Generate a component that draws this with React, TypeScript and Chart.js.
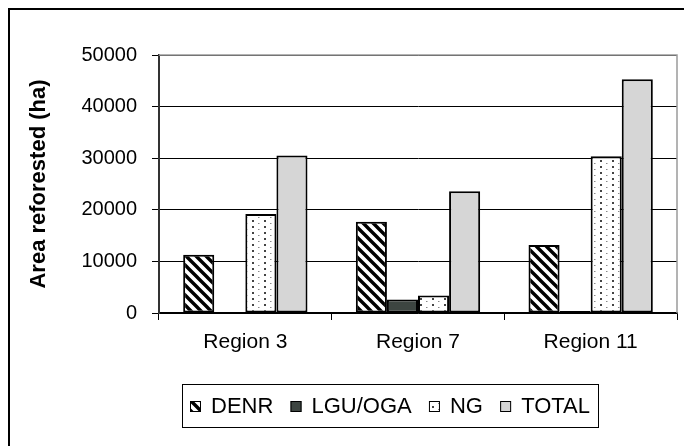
import React, { useEffect, useRef } from "react";
import { Chart, registerables } from "chart.js";

Chart.register(...registerables);

const categories = ["Region 3", "Region 7", "Region 11"];
const seriesNames = ["DENR", "LGU/OGA", "NG", "TOTAL"];
const denrValues = [11300, 17700, 13200];
const lguValues = [0, 2600, 400];
const ngValues = [19200, 3400, 30400];
const totalValues = [30500, 23600, 45300];
const yTickValues = [0, 10000, 20000, 30000, 40000, 50000];
const yTitle = "Area reforested (ha)";

const FONT = "'Liberation Sans', Arial, Helvetica, sans-serif";

function makeStripe(): CanvasPattern | string {
  const n = 10;
  const c = document.createElement("canvas");
  c.width = n;
  c.height = n;
  const g = c.getContext("2d");
  if (!g) return "#888";
  g.fillStyle = "#ffffff";
  g.fillRect(0, 0, n, n);
  g.strokeStyle = "#000000";
  g.lineWidth = 3.4;
  g.beginPath();
  for (let k = -1; k <= 1; k++) {
    g.moveTo(-2, -2 + n * k);
    g.lineTo(n + 2, n + 2 + n * k);
  }
  g.stroke();
  return g.createPattern(c, "repeat") || "#888";
}

function makeDots(): CanvasPattern | string {
  const c = document.createElement("canvas");
  c.width = 12;
  c.height = 6;
  const g = c.getContext("2d");
  if (!g) return "#eee";
  g.fillStyle = "#ffffff";
  g.fillRect(0, 0, 12, 6);
  g.fillStyle = "#444444";
  g.fillRect(4, 2, 2, 2);
  g.fillStyle = "#8a8a8a";
  g.fillRect(10, 5, 1.5, 1.5);
  return g.createPattern(c, "repeat") || "#eee";
}

export default function App() {
  const ref = useRef<HTMLCanvasElement | null>(null);

  useEffect(() => {
    if (!ref.current) return;
    const stripe = makeStripe();
    const dots = makeDots();
    const fills = [stripe, "#3d4541", dots, "#d6d6d6"];
    const values = [denrValues, lguValues, ngValues, totalValues];

    const decor = {
      id: "decor",
      afterDraw(chart: any) {
        const { ctx, chartArea: a } = chart;
        ctx.save();
        // plot area border (top & right)
        ctx.strokeStyle = "#9a9a9a";
        ctx.lineWidth = 1.5;
        ctx.beginPath();
        ctx.moveTo(a.left, a.top);
        ctx.lineTo(a.right, a.top);
        ctx.lineTo(a.right, a.bottom);
        ctx.stroke();
        // outer border (left & top)
        ctx.strokeStyle = "#000";
        ctx.lineWidth = 2;
        ctx.beginPath();
        ctx.moveTo(1, chart.height);
        ctx.lineTo(1, 1);
        ctx.lineTo(chart.width, 1);
        ctx.stroke();
        // legend
        const bx = 174, by = 376, bw = 416, bh = 43;
        ctx.strokeStyle = "#000";
        ctx.lineWidth = 1;
        ctx.strokeRect(bx + 0.5, by + 0.5, bw, bh);
        ctx.font = `22px ${FONT}`;
        ctx.textBaseline = "middle";
        ctx.fillStyle = "#000";
        const sw = 11, gapST = 10, pad = 8;
        const ds = chart.data.datasets;
        const widths = ds.map((d: any) => sw + gapST + ctx.measureText(d.label).width);
        const sum = widths.reduce((s: number, w: number) => s + w, 0);
        const gap = (bw - 2 * pad - sum) / (ds.length - 1);
        let x = bx + pad;
        const cy = by + bh / 2 + 1;
        ds.forEach((d: any, i: number) => {
          ctx.fillStyle = d.backgroundColor;
          ctx.fillRect(x, cy - sw / 2, sw, sw);
          ctx.strokeStyle = "#000";
          ctx.lineWidth = 1;
          ctx.strokeRect(x + 0.5, cy - sw / 2 + 0.5, sw - 1, sw - 1);
          ctx.fillStyle = "#000";
          ctx.fillText(d.label, x + sw + gapST, cy);
          x += widths[i] + gap;
        });
        ctx.restore();
      },
    };

    const chart = new Chart(ref.current, {
      type: "bar",
      data: {
        labels: categories,
        datasets: seriesNames.map((name, i) => ({
          label: name,
          data: values[i],
          backgroundColor: fills[i] as any,
          borderColor: "#000",
          borderWidth: 2,
          borderSkipped: false,
          categoryPercentage: 0.72,
          barPercentage: 1,
        })),
      },
      options: {
        animation: false,
        responsive: false,
        layout: { padding: { left: 0, right: 15, top: 47, bottom: 93 } },
        plugins: {
          legend: { display: false },
          tooltip: { enabled: false },
        },
        scales: {
          x: {
            afterFit: (s: any) => {
              s.height = 40;
            },
            grid: {
              drawOnChartArea: false,
              drawTicks: true,
              tickLength: 7,
              color: "#000",
              offset: true,
            },
            border: { color: "#000", width: 1.5 },
            ticks: {
              color: "#000",
              font: { family: FONT, size: 21 },
              padding: 10,
            },
          },
          y: {
            min: 0,
            max: 50000,
            afterFit: (s: any) => {
              s.width = 151;
            },
            afterBuildTicks: (s: any) => {
              s.ticks = yTickValues.map((v) => ({ value: v }));
            },
            grid: { color: "#000", lineWidth: 1, tickLength: 7 },
            border: { color: "#333", width: 2 },
            ticks: {
              color: "#000",
              font: { family: FONT, size: 20 },
              padding: 15,
              callback: (v: any) => String(v),
            },
            title: {
              display: true,
              text: yTitle,
              color: "#000",
              font: { family: FONT, size: 22, weight: "bold" },
              padding: { top: 18, bottom: 0 },
            },
          },
        },
      },
      plugins: [decor],
    });
    return () => chart.destroy();
  }, []);

  return (
    <div style={{ width: 684, height: 438 }}>
      <canvas ref={ref} width={684} height={438} style={{ display: "block" }} />
    </div>
  );
}
